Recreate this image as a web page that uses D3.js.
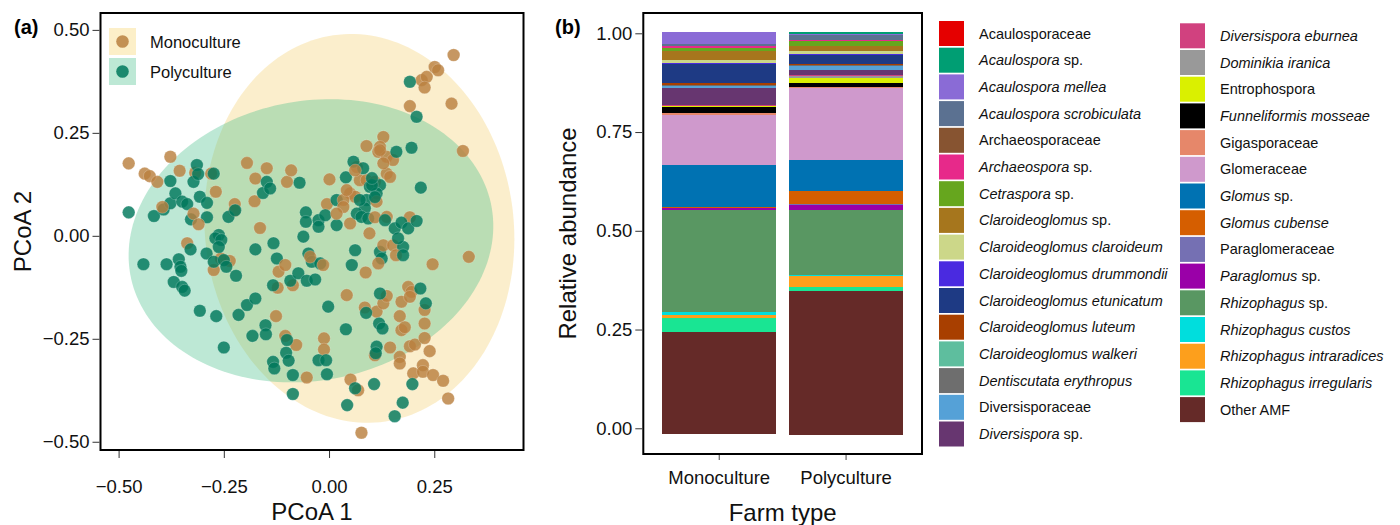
<!DOCTYPE html>
<html><head><meta charset="utf-8">
<script src="https://cdn.jsdelivr.net/npm/d3@7"></script>
<style>
html,body{margin:0;padding:0;background:#fff;}
svg{display:block;font-family:"Liberation Sans",Arial,Helvetica,sans-serif;}
</style></head>
<body>
<svg id="chart" width="1400" height="525"></svg>
<script>
// ---------------- DATA ----------------
const groups = ["Monoculture", "Polyculture"];
const groupPointColors = ["#B98040", "#00785C"];
const groupFillColors = ["#F2C243", "#42BD87"];

// PCoA scores: [PCoA1, PCoA2]
const monoPoints = [
 [-0.476,0.176],[-0.438,0.151],[-0.426,0.145],[-0.408,0.131],[-0.377,0.192],[-0.355,0.158],[-0.318,0.153],
 [-0.280,0.151],[-0.269,0.107],[-0.195,0.177],[-0.175,0.139],[-0.148,0.164],[-0.100,0.131],[-0.090,0.159],
 [-0.177,0.084],[-0.224,0.077],[-0.225,0.061],[-0.396,0.070],[-0.322,0.054],[-0.310,0.028],[-0.164,0.019],
 [0.001,0.137],[-0.005,0.077],[0.089,0.218],[0.129,0.240],[0.121,0.216],[0.117,0.204],[0.137,0.192],
 [0.152,0.184],[0.137,0.151],[0.129,0.176],[0.066,0.167],[0.073,0.135],[0.089,0.135],[0.109,0.131],
 [0.050,0.103],[0.062,0.095],[0.034,0.087],[0.034,0.070],[0.018,0.054],[0.050,0.030],[0.113,0.083],
 [0.137,0.046],[0.109,0.045],[0.096,0.006],[0.192,0.045],[0.192,0.315],[0.220,0.378],[0.232,0.386],
 [0.227,0.360],[0.251,0.410],[0.259,0.402],[0.296,0.439],[0.291,0.321],[0.318,0.206],[0.129,-0.023],
 [0.152,-0.023],[0.159,-0.047],[0.042,0.111],[0.121,0.208],[0.145,0.143],[0.062,0.159],
 [-0.337,-0.018],[-0.274,-0.083],[-0.236,-0.061],[-0.257,-0.055],[-0.126,-0.195],[-0.120,-0.087],
 [-0.104,-0.071],[-0.122,-0.126],[-0.086,-0.120],[-0.104,-0.243],[-0.078,-0.265],[-0.053,-0.344],
 [-0.045,-0.051],[-0.014,-0.071],[-0.012,-0.249],[-0.012,-0.276],[0.042,-0.144],[0.051,-0.349],
 [0.069,-0.375],[0.077,-0.478],[0.087,-0.089],[0.117,-0.067],[0.085,-0.174],[0.113,-0.184],
 [0.129,-0.164],[0.137,-0.146],[0.109,-0.290],[0.145,-0.271],[0.168,-0.294],[0.168,-0.310],
 [0.168,-0.195],[0.172,-0.160],[0.172,-0.229],[0.180,-0.222],[0.188,-0.124],[0.196,-0.136],
 [0.192,-0.148],[0.192,-0.268],[0.204,-0.264],[0.227,-0.180],[0.227,-0.213],[0.227,-0.248],
 [0.239,-0.280],[0.200,-0.334],[0.223,-0.314],[0.223,-0.330],[0.247,-0.338],[0.271,-0.352],
 [0.283,-0.395],[0.246,-0.069],[0.332,-0.051]
];
const polyPoints = [
 [-0.476,0.057],[-0.416,0.048],[-0.393,0.064],[-0.377,0.133],[-0.377,0.079],[-0.365,0.103],[-0.349,0.083],
 [-0.337,0.077],[-0.328,0.040],[-0.322,0.131],[-0.314,0.172],[-0.311,0.150],[-0.307,0.095],[-0.290,0.080],
 [-0.290,0.045],[-0.274,0.151],[-0.262,0.002],[-0.270,-0.006],[-0.256,-0.010],[-0.239,0.046],[-0.223,0.062],
 [-0.157,0.104],[-0.148,0.131],[-0.140,0.115],[-0.070,0.129],[-0.055,0.057],[-0.055,0.034],[-0.061,-0.002],
 [-0.025,0.038],[-0.025,0.022],[-0.009,0.050],[0.018,0.026],[0.018,0.087],[0.040,0.142],[0.058,0.180],
 [0.081,0.164],[0.097,0.119],[0.121,0.123],[0.113,0.103],[0.089,0.087],[0.085,0.067],[0.066,0.054],
 [0.077,0.046],[0.093,0.042],[0.133,0.038],[0.156,0.018],[0.172,0.032],[0.188,0.018],[0.208,0.036],
 [0.160,0.204],[0.196,0.214],[0.218,0.117],[0.208,0.289],[0.192,0.374],[0.062,-0.035],[0.121,-0.039],
 [0.125,-0.055],[0.176,-0.027],[0.176,-0.047],[0.164,-0.006],[-0.132,-0.018],[-0.124,-0.055],
 [-0.049,-0.043],[-0.041,-0.063],[-0.021,-0.067],[0.054,-0.071],[0.102,0.123],[0.109,0.094],
 [0.073,0.087],[0.102,0.140],
 [-0.441,-0.069],[-0.386,-0.069],[-0.357,-0.057],[-0.353,-0.075],[-0.351,-0.085],[-0.369,-0.112],
 [-0.349,-0.124],[-0.343,-0.133],[-0.329,-0.033],[-0.307,-0.182],[-0.291,-0.043],[-0.274,-0.063],
 [-0.268,-0.195],[-0.250,-0.271],[-0.262,-0.027],[-0.250,-0.059],[-0.244,-0.075],[-0.221,-0.097],
 [-0.215,-0.192],[-0.195,-0.168],[-0.175,-0.152],[-0.175,-0.033],[-0.182,-0.243],[-0.151,-0.217],
 [-0.150,-0.239],[-0.133,-0.120],[-0.100,-0.253],[-0.102,-0.284],[-0.096,-0.303],[-0.133,-0.306],
 [-0.130,-0.322],[-0.086,-0.338],[-0.086,-0.384],[-0.092,-0.109],[-0.073,-0.091],[-0.053,-0.109],
 [-0.033,-0.106],[-0.025,-0.302],[-0.007,-0.302],[-0.005,-0.336],[-0.002,-0.172],[0.040,-0.227],
 [0.062,-0.370],[0.043,-0.411],[0.088,-0.187],[0.107,-0.360],[0.113,-0.269],[0.111,-0.285],
 [0.121,-0.140],[0.119,-0.213],[0.127,-0.225],[0.156,-0.438],[0.175,-0.405],[0.198,-0.360],
 [0.217,-0.128],[0.230,-0.164]
];
// ellipse parameters per group: [centre x, centre y, semi-axis x, semi-axis y, angle deg]
const ellipseParams = [
 [0.072, 0.018, 0.367, 0.473, 6],
 [-0.043, -0.012, 0.437, 0.339, 12]
];
const pcoaTicks = [-0.50, -0.25, 0.00, 0.25, 0.50];
const pcoaXTicks = [-0.50, -0.25, 0.00, 0.25];

// Panel (b)
const farmTypes = ["Monoculture", "Polyculture"];
const taxa = [
 "Acaulosporaceae","Acaulospora sp.","Acaulospora mellea","Acaulospora scrobiculata","Archaeosporaceae",
 "Archaeospora sp.","Cetraspora sp.","Claroideoglomus sp.","Claroideoglomus claroideum",
 "Claroideoglomus drummondii","Claroideoglomus etunicatum","Claroideoglomus luteum",
 "Claroideoglomus walkeri","Dentiscutata erythropus","Diversisporaceae","Diversispora sp.",
 "Diversispora eburnea","Dominikia iranica","Entrophospora","Funneliformis mosseae","Gigasporaceae",
 "Glomeraceae","Glomus sp.","Glomus cubense","Paraglomeraceae","Paraglomus sp.","Rhizophagus sp.",
 "Rhizophagus custos","Rhizophagus intraradices","Rhizophagus irregularis","Other AMF"
];
const taxaColors = [
 "#E50000","#009E73","#8A6BD6","#5B7191","#875431","#E7298A","#66A61E","#A6761D","#CCD789",
 "#4A2AE0","#1E3A84","#A83F00","#5EBE9E","#6E6E6E","#55A1D7","#673670",
 "#D1417F","#999999","#DAF000","#000000","#E6876A","#CF99CC","#0072B2","#D55E00","#7570B3",
 "#9A00A8","#599762","#00DEDD","#FD9F1C","#19E593","#652A28"
];
const uprightTaxa = ["Acaulosporaceae","Archaeosporaceae","Diversisporaceae","Entrophospora",
 "Gigasporaceae","Glomeraceae","Paraglomeraceae","Other AMF"];
const monoAbundance = [
 0,0,0.030,0.004,0,0.006,0.008,0.022,0.009,0.001,0.048,0.007,0,0.001,0.005,0.044,
 0.001,0.001,0.003,0.016,0.003,0.127,0.106,0.003,0.001,0.004,0.258,0.008,0.008,0.035,0.258
];
const polyAbundance = [
 0,0.006,0.003,0.011,0.001,0.003,0.012,0.014,0.007,0.003,0.021,0.003,0.001,0.001,0.010,0.013,
 0.004,0.003,0.013,0.011,0.002,0.183,0.078,0.032,0.003,0.013,0.165,0.002,0.029,0.009,0.365
];
const barBase = [-0.014, -0.017];
const abundTicks = [0, 0.25, 0.5, 0.75, 1.0];

// ---------------- DRAW ----------------
const svg = d3.select("#chart");
const FONT = '"Liberation Sans",Arial,Helvetica,sans-serif';
const fmt2 = v => d3.format(".2f")(v).replace("-", "\u2212");

// ===== Panel (a) =====
const A = {l:100.5, r:523.5, t:13, b:450};
const xA = d3.scaleLinear().domain([-0.543, 0.462]).range([A.l, A.r]);
const yA = d3.scaleLinear().domain([-0.52, 0.541]).range([A.b, A.t]);
const gA = svg.append("g");

function ellipsePts(p){
  const [cx, cy, a, b, deg] = p, th = deg*Math.PI/180;
  return d3.range(0, 181).map(i => {
    const t = i/180*2*Math.PI, dx = a*Math.cos(t), dy = b*Math.sin(t);
    return [cx + dx*Math.cos(th) - dy*Math.sin(th), cy + dx*Math.sin(th) + dy*Math.cos(th)];
  });
}
const eLine = d3.line().x(d => xA(d[0])).y(d => yA(d[1])).curve(d3.curveLinearClosed);
const ellOpac = [0.27, 0.35];
ellipseParams.forEach((p, i) => {
  gA.append("path").attr("d", eLine(ellipsePts(p)))
    .attr("fill", groupFillColors[i]).attr("fill-opacity", ellOpac[i]).attr("stroke", "none");
});

// interleave points
const allPts = [];
const nMax = Math.max(monoPoints.length, polyPoints.length);
for (let i = 0; i < nMax; i++) {
  if (i < polyPoints.length) allPts.push({p: polyPoints[i], g: 1});
  if (i < monoPoints.length) allPts.push({p: monoPoints[i], g: 0});
}
gA.selectAll("circle.pt").data(allPts).join("circle").attr("class","pt")
  .attr("cx", d => xA(d.p[0])).attr("cy", d => yA(d.p[1])).attr("r", 6.3)
  .attr("fill", d => groupPointColors[d.g]).attr("fill-opacity", 0.82)
  .attr("stroke", "#ffffff").attr("stroke-opacity", 0.35).attr("stroke-width", 0.6);

// legend (a)
const legBoxFill = ["#FCEFC8", "#BDE8D5"];
groups.forEach((g, i) => {
  const y0 = 28 + i*30;
  gA.append("rect").attr("x", 109).attr("y", y0).attr("width", 27).attr("height", 27).attr("fill", legBoxFill[i]);
  gA.append("circle").attr("cx", 122.5).attr("cy", y0 + 13.5).attr("r", 6.3)
    .attr("fill", groupPointColors[i]).attr("fill-opacity", 0.85);
  gA.append("text").attr("x", 150).attr("y", y0 + 19.5).attr("font-size", 16.5).attr("fill", "#111").text(g);
});

// frame
gA.append("rect").attr("x", A.l).attr("y", A.t).attr("width", A.r - A.l).attr("height", A.b - A.t)
  .attr("fill", "none").attr("stroke", "#000").attr("stroke-width", 2);

// axes (a)
const axYA = d3.axisLeft(yA).tickValues(pcoaTicks).tickSize(7).tickPadding(3).tickFormat(fmt2);
gA.append("g").attr("transform", `translate(${A.l - 1},0)`).call(axYA)
  .call(g => { g.select(".domain").remove(); g.selectAll("line").attr("stroke", "#333").attr("stroke-width", 1);
    g.selectAll("text").attr("font-size", 18.5).attr("font-family", FONT).attr("fill", "#111"); });
const axXA = d3.axisBottom(xA).tickValues(pcoaXTicks).tickSize(7).tickPadding(22).tickFormat(fmt2);
gA.append("g").attr("transform", `translate(0,${A.b + 1})`).call(axXA)
  .call(g => { g.select(".domain").remove(); g.selectAll("line").attr("stroke", "#333").attr("stroke-width", 1);
    g.selectAll("text").attr("font-size", 18.5).attr("font-family", FONT).attr("fill", "#111"); });
gA.append("text").attr("x", (A.l + A.r)/2).attr("y", 520).attr("text-anchor", "middle")
  .attr("font-size", 24).attr("fill", "#111").text("PCoA 1");
gA.append("text").attr("transform", `translate(31,${(A.t + A.b)/2}) rotate(-90)`).attr("text-anchor", "middle")
  .attr("font-size", 24).attr("fill", "#111").text("PCoA 2");
svg.append("text").attr("x", 14).attr("y", 34).attr("font-size", 20).attr("font-weight", "bold").text("(a)");

// ===== Panel (b) =====
const B = {l:643.3, r:922, t:13, b:454};
const xB = d3.scaleBand().domain(farmTypes).range([B.l, B.r]).paddingInner(0.1).paddingOuter(0.1485);
const yB = d3.scaleLinear().domain([-0.0651, 1.0514]).range([B.b, B.t]);
const gB = svg.append("g");
const abund = [monoAbundance, polyAbundance];
farmTypes.forEach((f, fi) => {
  let y0 = barBase[fi];
  const segs = [];
  for (let k = taxa.length - 1; k >= 0; k--) {
    const v = abund[fi][k];
    if (v > 0) segs.push({k, y0, y1: y0 + v});
    y0 += v;
  }
  gB.selectAll(null).data(segs).join("rect")
    .attr("x", xB(f)).attr("width", xB.bandwidth())
    .attr("y", d => yB(d.y1)).attr("height", d => yB(d.y0) - yB(d.y1))
    .attr("fill", d => taxaColors[d.k]).attr("shape-rendering", "crispEdges");
});
gB.append("rect").attr("x", B.l).attr("y", B.t).attr("width", B.r - B.l).attr("height", B.b - B.t)
  .attr("fill", "none").attr("stroke", "#000").attr("stroke-width", 2);
const axYB = d3.axisLeft(yB).tickValues(abundTicks).tickSize(7).tickPadding(3).tickFormat(fmt2);
gB.append("g").attr("transform", `translate(${B.l - 1},0)`).call(axYB)
  .call(g => { g.select(".domain").remove(); g.selectAll("line").attr("stroke", "#333").attr("stroke-width", 1);
    g.selectAll("text").attr("font-size", 18.5).attr("font-family", FONT).attr("fill", "#111"); });
const axXB = d3.axisBottom(xB).tickSize(5).tickPadding(6);
gB.append("g").attr("transform", `translate(0,${B.b + 1})`).call(axXB)
  .call(g => { g.select(".domain").remove(); g.selectAll("line").attr("stroke", "#444").attr("stroke-width", 1);
    g.selectAll("text").attr("font-size", 18.5).attr("font-family", FONT).attr("fill", "#111").attr("dy", "0.95em"); });
gB.append("text").attr("x", (B.l + B.r)/2).attr("y", 521).attr("text-anchor", "middle")
  .attr("font-size", 24).attr("fill", "#111").text("Farm type");
gB.append("text").attr("transform", `translate(576,${(B.t + B.b)/2}) rotate(-90)`).attr("text-anchor", "middle")
  .attr("font-size", 24).attr("fill", "#111").text("Relative abundance");
svg.append("text").attr("x", 555).attr("y", 34).attr("font-size", 20).attr("font-weight", "bold").text("(b)");

// legend (b)
const gL = svg.append("g");
const perCol = 16, rowH = 26.7;
taxa.forEach((name, i) => {
  const col = i < perCol ? 0 : 1, row = col === 0 ? i : i - perCol;
  const sx = col === 0 ? 939 : 1180, ty0 = col === 0 ? 21 : 23.3;
  const y = ty0 + row*rowH;
  gL.append("rect").attr("x", sx).attr("y", y).attr("width", 25).attr("height", 25).attr("fill", taxaColors[i]);
  const t = gL.append("text").attr("x", sx + 40).attr("y", y + 17.5).attr("font-size", 14.5).attr("fill", "#111");
  if (name.endsWith(" sp.")) {
    t.append("tspan").attr("font-style", "italic").text(name.slice(0, -4));
    t.append("tspan").text(" sp.");
  } else if (uprightTaxa.includes(name)) {
    t.text(name);
  } else {
    t.append("tspan").attr("font-style", "italic").text(name);
  }
});
</script>
</body></html>
